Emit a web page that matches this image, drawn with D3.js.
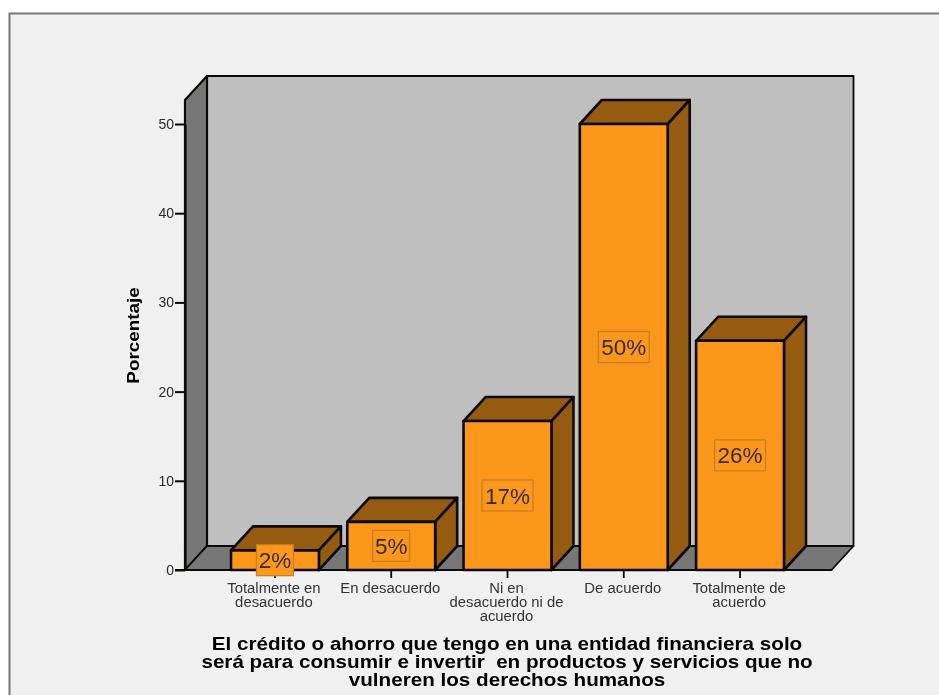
<!DOCTYPE html>
<html><head><meta charset="utf-8">
<script src="https://cdn.jsdelivr.net/npm/d3@7"></script>
<style>
html,body{margin:0;padding:0;background:#fff}
svg{display:block;filter:blur(0.45px)}
text{font-family:"Liberation Sans",Arial,sans-serif}
</style></head><body>
<svg id="c" width="939" height="695"></svg>
<script>
const categories = [["Totalmente en","desacuerdo"],["En desacuerdo"],["Ni en","desacuerdo ni de","acuerdo"],["De acuerdo"],["Totalmente de","acuerdo"]];
const values = [2.2, 5.4, 16.7, 50, 25.7];
const valueLabels = ["2%","5%","17%","50%","26%"];
const yTicks = [0,10,20,30,40,50];
const yTitle = "Porcentaje";
const xTitle = ["El crédito o ahorro que tengo en una entidad financiera solo","será para consumir e invertir  en productos y servicios que no","vulneren los derechos humanos"];

const svg = d3.select("#c");
const ink = "#0c0a06";
const x = d3.scaleBand().domain(d3.range(categories.length)).range([231,784]).paddingInner(0.244);
const y = d3.scaleLinear().domain([0,50]).range([570,124]);
const dx = 22, dy = -24;
const plotL = 185, plotR = 831.5, plotT = 100;
const base = y(0);

// panel
svg.append("rect").attr("x",9.5).attr("y",13.5).attr("width",940).attr("height",700)
  .attr("fill","#f0f0f0").attr("stroke","#777").attr("stroke-width",2);

const poly = (pts,fill,sw=2.6)=>svg.append("path").attr("d",d3.line()(pts)+"Z")
  .attr("fill",fill).attr("stroke",ink).attr("stroke-width",sw).attr("stroke-linejoin","round");

// stretched text: the reference's glyphs are horizontally widened
const label = (s,cx,by,size,sx,fill,bold)=>svg.append("text")
  .attr("transform",`translate(${cx},${by}) scale(${sx},1)`)
  .attr("text-anchor","middle").style("white-space","pre")
  .attr("font-size",size).attr("font-weight",bold?"bold":"normal").attr("fill",fill).text(s);

// walls and floor
poly([[plotL+dx,plotT+dy],[plotR+dx,plotT+dy],[plotR+dx,base+dy],[plotL+dx,base+dy]],"#bfbfbf",1.8);
poly([[plotL,plotT],[plotL+dx,plotT+dy],[plotL+dx,base+dy],[plotL,base]],"#777777",2.2);
poly([[plotL,base],[plotL+dx,base+dy],[plotR+dx,base+dy],[plotR,base]],"#777777",1.8);

// axes
const yAxis = svg.append("g").attr("transform",`translate(${plotL},0)`)
  .call(d3.axisLeft(y).tickValues(yTicks).tickSize(10).tickSizeOuter(0).tickPadding(1));
yAxis.select(".domain").attr("stroke",ink).attr("stroke-width",2.2);
yAxis.selectAll("line").attr("stroke",ink).attr("stroke-width",2);
yAxis.selectAll("text").attr("font-size",14).attr("fill","#2a2a2a").attr("font-family","Liberation Sans");

svg.append("line").attr("x1",plotL-10).attr("x2",plotR).attr("y1",base).attr("y2",base).attr("stroke",ink).attr("stroke-width",2.2);

// bars
const w = x.bandwidth();
values.forEach((v,i)=>{
  const x0 = x(i), yt = y(v);
  poly([[x0,yt],[x0+dx,yt+dy],[x0+w+dx,yt+dy],[x0+w,yt]],"#955c11");
  poly([[x0+w,yt],[x0+w+dx,yt+dy],[x0+w+dx,base+dy],[x0+w,base]],"#955c11");
  poly([[x0,yt],[x0+w,yt],[x0+w,base],[x0,base]],"#fb981c");
  svg.append("line").attr("x1",x0+w/2).attr("x2",x0+w/2).attr("y1",base).attr("y2",base+8).attr("stroke",ink).attr("stroke-width",1.8);
});

// value labels
values.forEach((v,i)=>{
  const cx = x(i)+w/2;
  const cy = (y(v)+base)/2;
  const t = valueLabels[i];
  const bw = t.length===2 ? 37 : 51, bh = 31;
  svg.append("rect").attr("x",cx-bw/2).attr("y",cy-bh/2).attr("width",bw).attr("height",bh)
    .attr("fill","#fb981c").attr("stroke","#c47d22").attr("stroke-width",1.2);
  label(t,cx,cy+8,22.5,1.0,"#3a2a10",false);
});

// category labels
categories.forEach((lines,i)=>{
  lines.forEach((s,j)=>label(s,x(i)+w/2-1,592.5+j*14,14.3,1.04,"#333",false));
});

// axis titles
svg.append("text").attr("transform","translate(139,335.5) rotate(-90) scale(1.11,1)").attr("text-anchor","middle")
  .attr("font-size",17).attr("font-weight","bold").attr("fill","#000").text(yTitle);
xTitle.forEach((s,j)=>label(s,507,650+j*18.2,17.5,1.18,"#000",true));
</script>
</body></html>
